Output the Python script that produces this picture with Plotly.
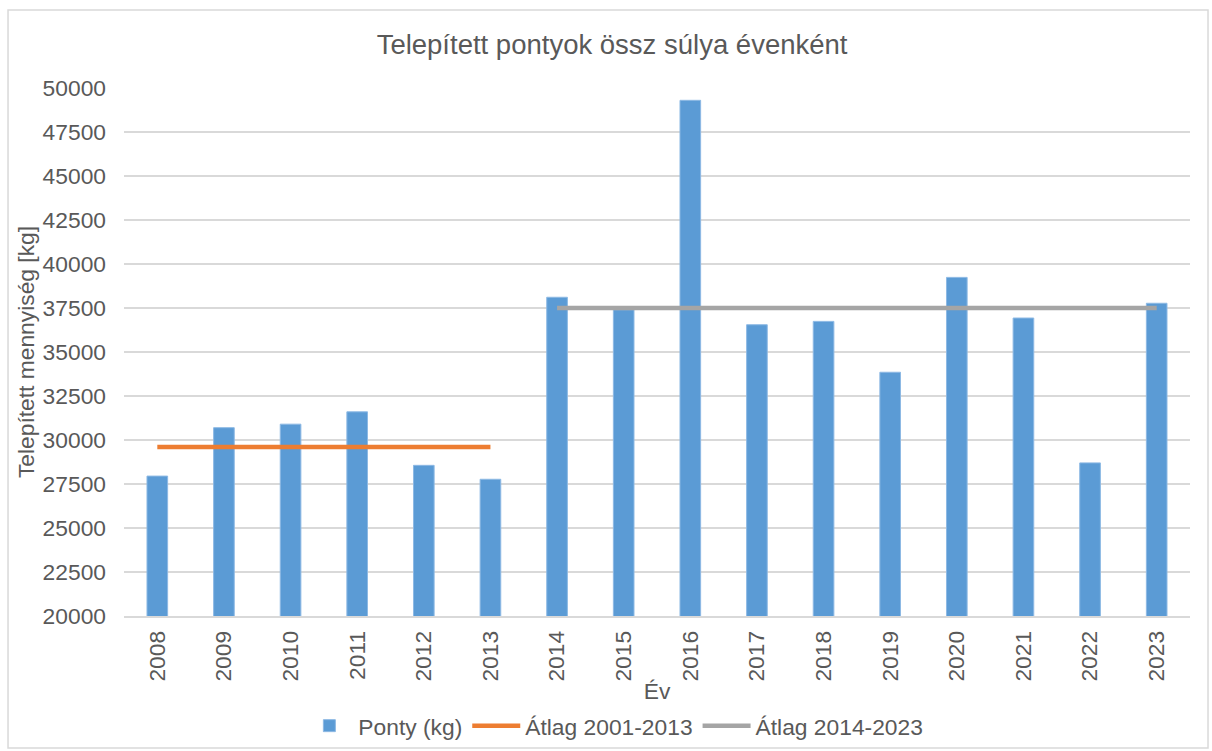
import plotly.graph_objects as go

years = ["2008", "2009", "2010", "2011", "2012", "2013", "2014", "2015",
         "2016", "2017", "2018", "2019", "2020", "2021", "2022", "2023"]
ponty = [27950, 30700, 30900, 31600, 28560, 27770, 38110, 37400,
         49300, 36550, 36740, 33850, 39240, 36930, 28700, 37770]
avg_old_years = years[:6]
avg_old = [29600] * 6
avg_new_years = years[6:]
avg_new = [37500] * 10

font = "Liberation Sans, Arial, sans-serif"
grey_txt = "#595959"
fs = 22.8

fig = go.Figure()
fig.add_trace(go.Bar(x=years, y=ponty, name="Ponty (kg)",
                     marker=dict(color="#5B9BD5", line=dict(color="#8DB9E4", width=1)),
                     width=0.31))
fig.add_trace(go.Scatter(x=avg_old_years, y=avg_old, name="Átlag 2001-2013",
                         mode="lines", line=dict(color="#ED7D31", width=4.5)))
fig.add_trace(go.Scatter(x=avg_new_years, y=avg_new, name="Átlag 2014-2023",
                         mode="lines", line=dict(color="#A5A5A5", width=4.5)))

fig.update_layout(
    width=1212, height=751,
    margin=dict(l=124, r=22, t=88, b=135, autoexpand=False),
    paper_bgcolor="white", plot_bgcolor="white",
    font=dict(family=font, color=grey_txt, size=fs),
    title=dict(text="Telepített pontyok össz súlya évenként", x=0.505, xanchor="center",
               y=0.9414, yanchor="middle", font=dict(size=27.5, color=grey_txt)),
    showlegend=True,
    legend=dict(orientation="h", x=0.46, xanchor="center", y=-0.208, yanchor="middle",
                font=dict(size=fs, color=grey_txt), itemwidth=48, tracegroupgap=0),
    shapes=[dict(type="rect", xref="paper", yref="paper",
                 x0=-0.1088, x1=1.0169, y0=-0.25, y1=1.1477,
                 line=dict(color="#D9D9D9", width=1.5), fillcolor="rgba(0,0,0,0)",
                 layer="below")],
)
fig.update_xaxes(
    type="category", tickangle=-90, ticks="", showgrid=False,
    showline=True, linecolor="#D9D9D9", linewidth=1.5,
    ticklabelstandoff=4, automargin=False,
    tickfont=dict(size=fs, color=grey_txt),
    title=dict(text="Év", font=dict(size=fs, color=grey_txt), standoff=2),
)
fig.update_yaxes(
    range=[20000, 50000], dtick=2500, tick0=20000, showgrid=True,
    gridcolor="#D9D9D9", gridwidth=1.5, zeroline=False, ticks="",
    tickformat="d", ticklabelstandoff=17, automargin=False,
    tickfont=dict(size=fs, color=grey_txt),
    title=dict(text="Telepített mennyiség [kg]", font=dict(size=fs, color=grey_txt), standoff=1),
)

fig.write_html("out.html", config={"displayModeBar": False},
               post_script="document.body.style.margin='0';")
